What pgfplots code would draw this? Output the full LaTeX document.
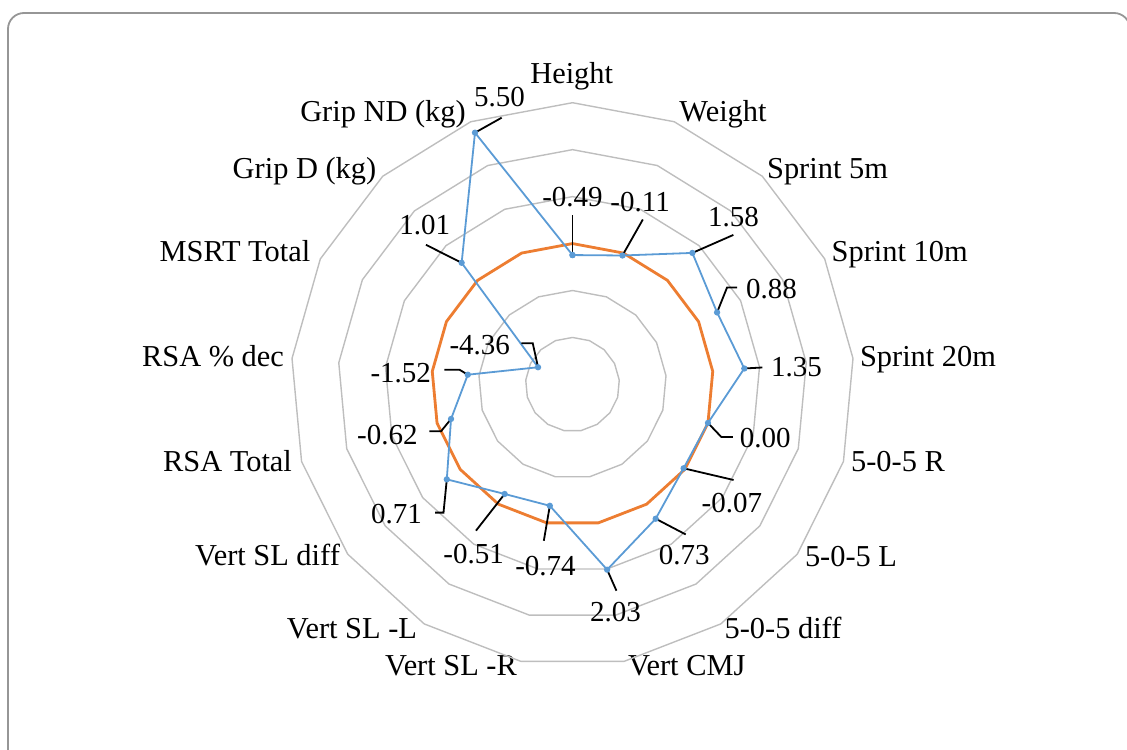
\documentclass[border=0pt]{standalone}
\usepackage{pgfplots}
\pgfplotsset{compat=1.18}
\usepackage{pgfplotstable}
\usepgfplotslibrary{polar}
\usepackage{fontspec}
\setmainfont{Liberation Serif}

\definecolor{sblue}{RGB}{91,155,213}
\definecolor{sorange}{RGB}{237,125,49}
\definecolor{gridgray}{RGB}{190,190,190}
\definecolor{framegray}{RGB}{150,150,150}

% blue series (k = category index, clockwise from top; 17 closes the polygon)
\pgfplotstableread{
k v
0 -0.49
1 -0.11
2 1.58
3 0.88
4 1.35
5 0.00
6 -0.07
7 0.73
8 2.03
9 -0.74
10 -0.51
11 0.71
12 -0.62
13 -1.52
14 -4.36
15 1.01
16 5.50
17 -0.49
}\seriesA

% orange series
\pgfplotstableread{
k v
0 0
1 0
2 0
3 0
4 0
5 0
6 0
7 0
8 0
9 0
10 0
11 0
12 0
13 0
14 0
15 0
16 0
17 0
}\seriesB

\newcommand\dl[5]{%
  \draw[ldr] (axis cs:#1,#2) #3;
  \path (axis cs:#1,#2) ++(#4) node[dlab] {#5};
}

\begin{document}
\begin{tikzpicture}[
  cat/.style={anchor=base, inner sep=0pt, font=\fontsize{15.2}{18}\selectfont},
  dlab/.style={anchor=center, inner sep=0pt, font=\fontsize{14.5}{17}\selectfont},
  ldr/.style={black, line width=0.9pt}]
\begin{scope}[x=0.5pt,y=-0.5pt]
\useasboundingbox (0,0) rectangle (1127,749);
\draw[framegray, line width=0.9pt, rounded corners=8pt] (8,770) -- (8,13) -- (1130,13) -- (1130,770);
\node[cat] at (571.7,83.3) {Height};
\node[cat] at (723,121.7) {Weight};
\node[cat] at (827.5,178.3) {Sprint 5m};
\node[cat] at (899.7,261.7) {Sprint 10m};
\node[cat] at (928,366.7) {Sprint 20m};
\node[cat] at (898,471.7) {5-0-5 R};
\node[cat] at (851,566.7) {5-0-5 L};
\node[cat] at (783,638) {5-0-5 diff};
\node[cat] at (686.7,675) {Vert CMJ};
\node[cat] at (451,675) {Vert SL -R};
\node[cat] at (352,638) {Vert SL -L};
\node[cat] at (267.5,565) {Vert SL diff};
\node[cat] at (227.5,471.7) {RSA Total};
\node[cat] at (213,366) {RSA \% dec};
\node[cat] at (235,261.7) {MSRT Total};
\node[cat] at (304.5,178.3) {Grip D (kg)};
\node[cat] at (383,121.7) {Grip ND (kg)};
\end{scope}

\begin{polaraxis}[
  at={(286.25pt,-192.2pt)}, anchor=center,
  scale only axis, width=281.7pt, height=281.7pt,
  xmin=0, xmax=360, ymin=0, ymax=12,
  hide axis, clip=false,
  xtick=\empty, ytick=\empty]
\pgfplotsinvokeforeach{2,4,6,8,10,12}{
  \addplot[gridgray, line width=0.7pt, no markers]
    table[x expr=90-\thisrow{k}*360/17, y expr=#1] {\seriesB};
}
\addplot[sorange, line width=1.4pt, no markers]
  table[x expr=90-\thisrow{k}*360/17, y expr=\thisrow{v}+6] {\seriesB};
\addplot[sblue, line width=0.9pt, mark=*, mark size=1.1pt, mark options={fill=sblue}]
  table[x expr=90-\thisrow{k}*360/17, y expr=\thisrow{v}+6] {\seriesA};

\dl{90}{5.51}{-- ++(0,20pt)}{0,28.75pt}{-0.49}
\dl{68.8235}{5.89}{-- ++(10.2pt,18pt)}{8.85pt,26.7pt}{-0.11}
\dl{47.6471}{7.58}{-- ++(20.5pt,9pt)}{20.5pt,17.85pt}{1.58}
\dl{26.4706}{6.88}{-- ++(5pt,12.5pt) -- ++(5pt,0)}{27.25pt,11.65pt}{0.88}
\dl{5.2941}{7.35}{-- ++(9pt,0.5pt)}{26.15pt,0.85pt}{1.35}
\dl{-15.8824}{6}{-- ++(6.65pt,-7pt) -- ++(5.85pt,0)}{28.65pt,-7.5pt}{0.00}
\dl{-37.0588}{5.93}{-- ++(25pt,-5.85pt)}{24.15pt,-17.5pt}{-0.07}
\dl{-58.2353}{6.73}{-- ++(15pt,-7.85pt)}{14.25pt,-18.35pt}{0.73}
\dl{-79.4118}{8.03}{-- ++(4.65pt,-10.5pt)}{4.15pt,-21.35pt}{2.03}
\dl{-100.5882}{5.26}{-- ++(-3pt,-17.5pt)}{-2.15pt,-30pt}{-0.74}
\dl{-121.7647}{5.49}{-- ++(-14.35pt,-18.35pt)}{-15.5pt,-30pt}{-0.51}
\dl{-142.9412}{6.71}{-- ++(-1.65pt,-16.65pt) -- ++(-4.15pt,0)}{-25.15pt,-17.15pt}{0.71}
\dl{-164.1176}{5.38}{-- ++(-5pt,-6.15pt) -- ++(-5.85pt,0)}{-31.85pt,-7.85pt}{-0.62}
\dl{-185.2941}{4.48}{-- ++(-4.15pt,2.5pt) -- ++(-7.5pt,0)}{-33.5pt,0.85pt}{-1.52}
\dl{-206.4706}{1.64}{-- ++(-2.65pt,12pt) -- ++(-5.65pt,0)}{-29.15pt,11.3pt}{-4.36}
\dl{-227.6471}{7.01}{-- ++(-17.85pt,9pt)}{-18.5pt,18.7pt}{1.01}
\dl{-248.8235}{11.5}{-- ++(13.35pt,7.5pt)}{12.2pt,18pt}{5.50}
\end{polaraxis}
\end{tikzpicture}
\end{document}
